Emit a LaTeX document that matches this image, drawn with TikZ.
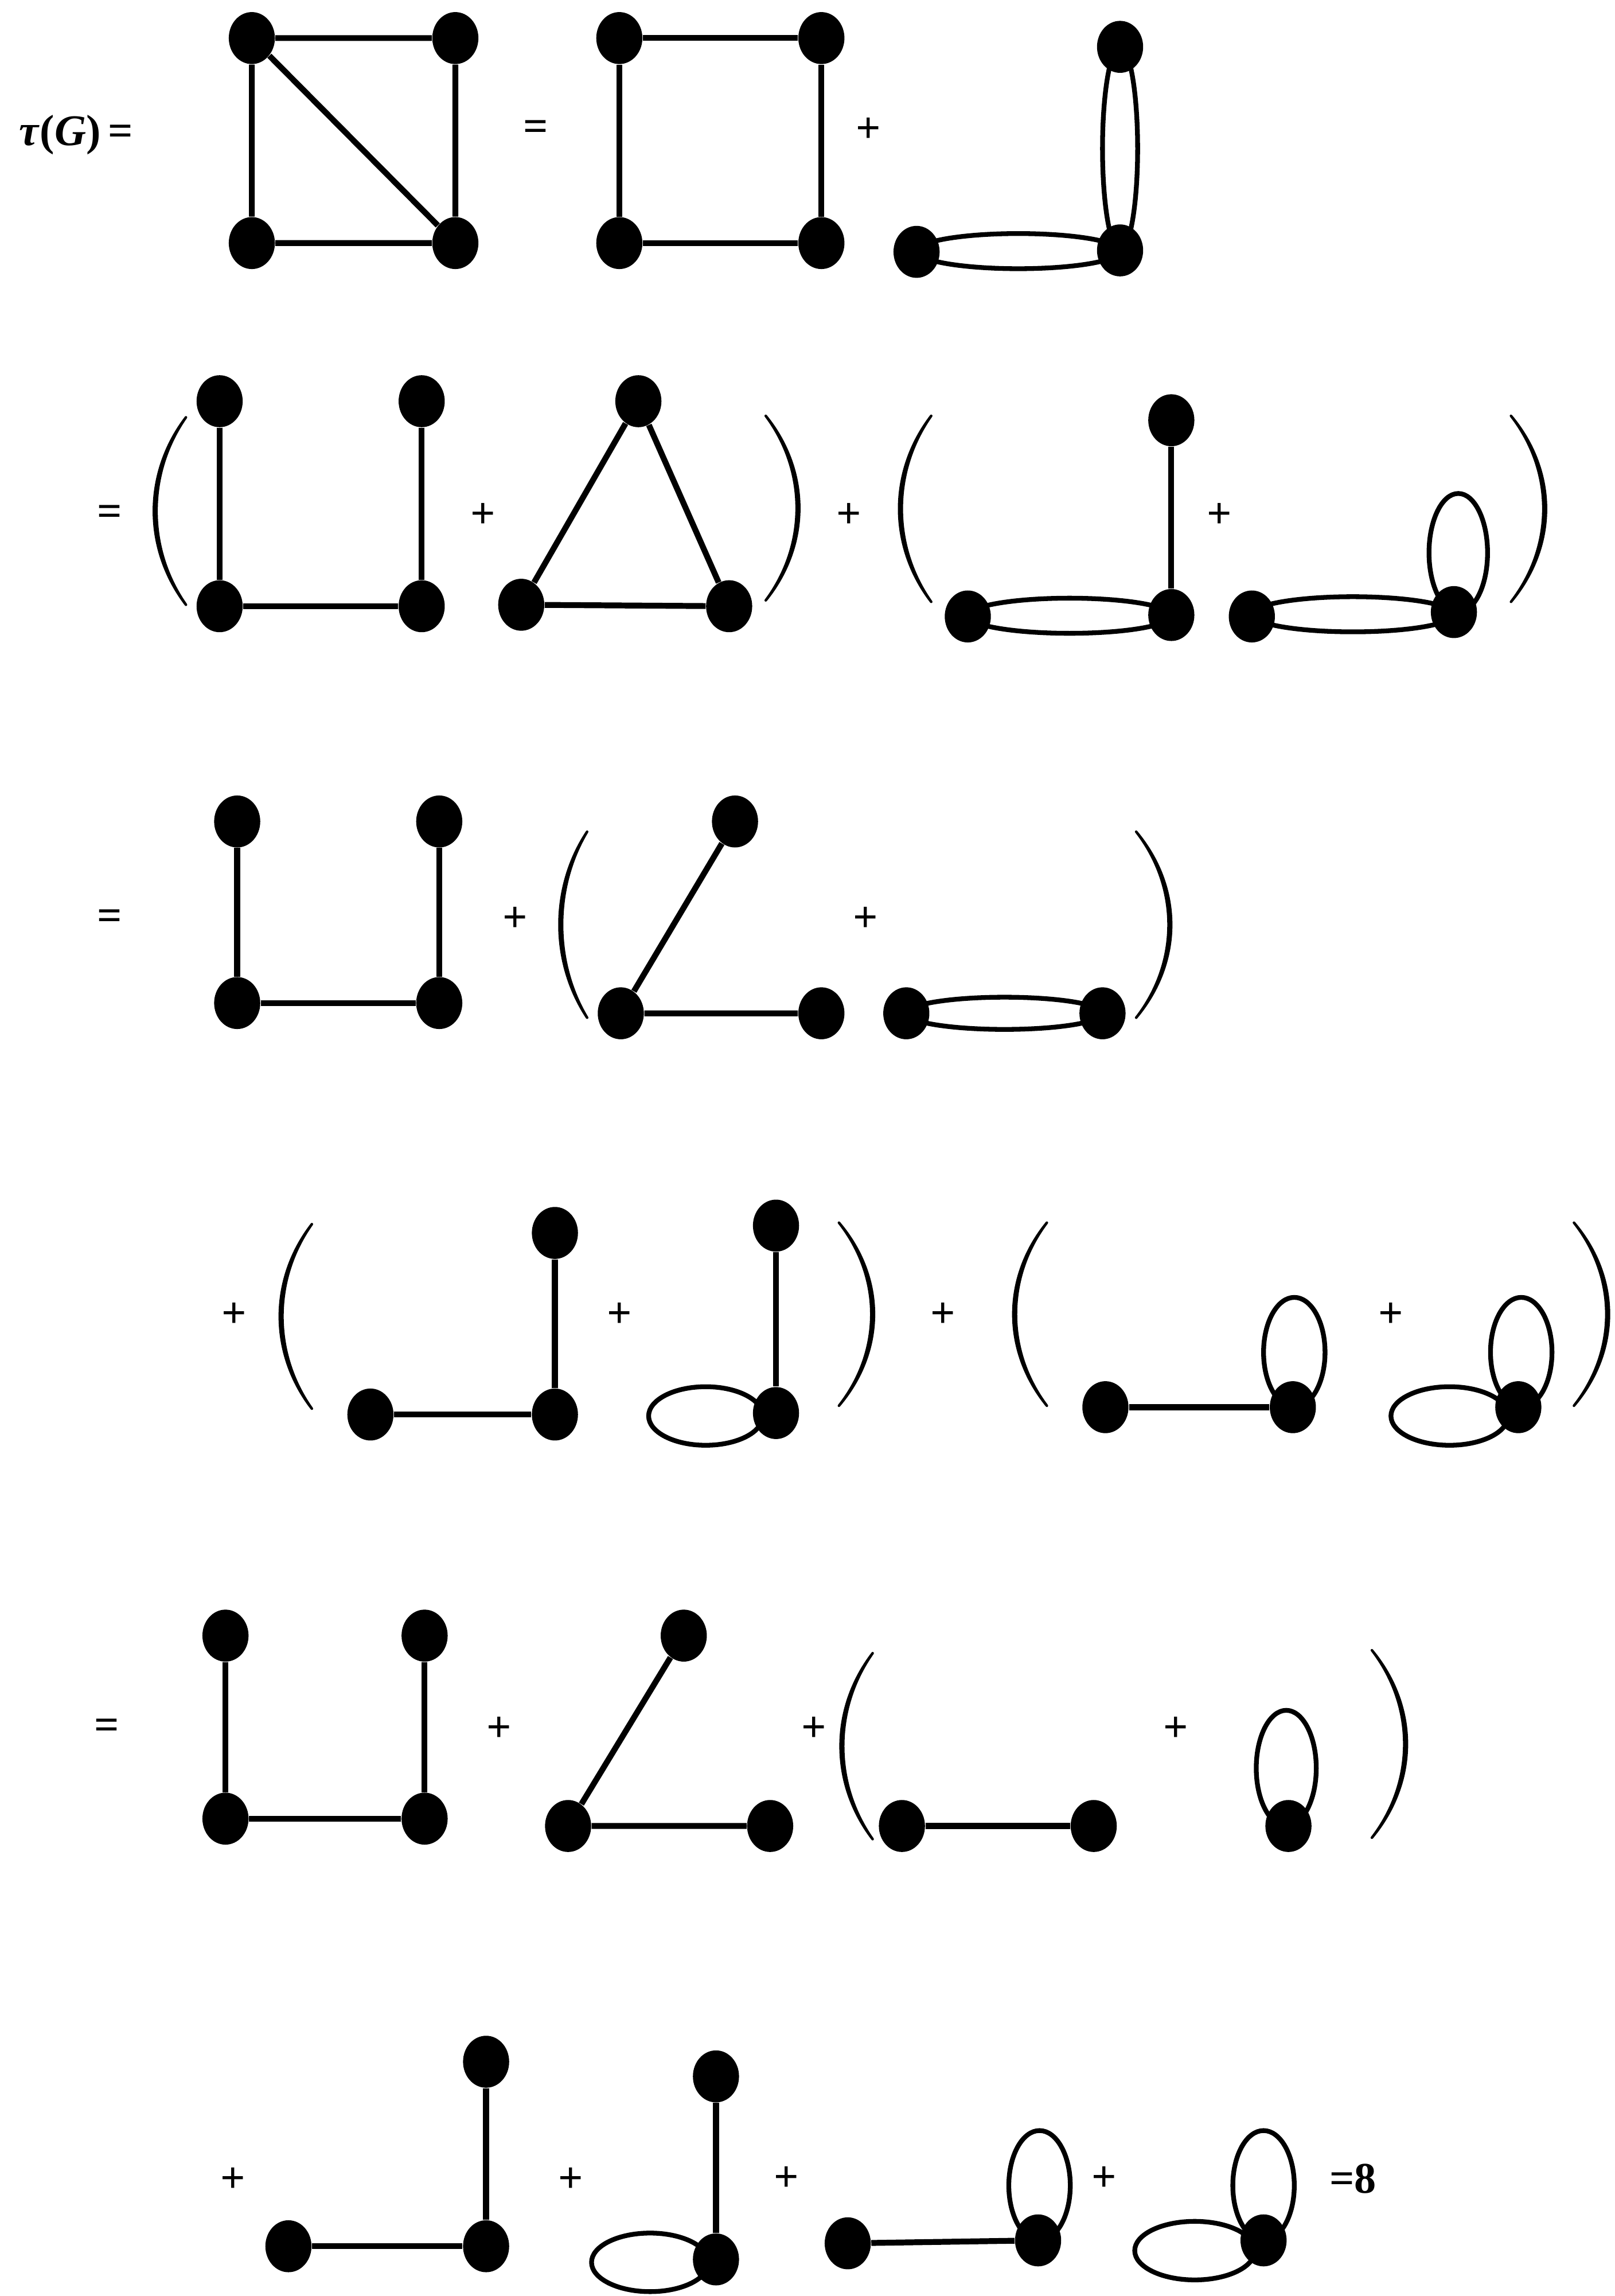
\documentclass[tikz,border=0pt]{standalone}
\usepackage{fontspec}
\setmainfont{Liberation Serif}
\usetikzlibrary{shapes.geometric,calc}
\tikzset{
  vtx/.style={ellipse, fill=black, draw=none, inner sep=0pt, minimum width=0.63cm, minimum height=0.71cm},
  edg/.style={line width=0.08cm},
  lp/.style={line width=0.065cm},
  par/.style={fill=black, draw=black, line width=0.035cm, line cap=round, line join=round},
  txt/.style={font=\fontsize{17}{20}\selectfont\bfseries, inner sep=0pt},
}
% #1 end x, #2 middle x, #3 top y, #4 bottom y
\newcommand{\parenarc}[4]{%
  \path[par] (#1,#3)
    .. controls ({(8*(#2-0.9)-2*#1)/6},{#3+0.3*(#4-#3)}) and ({(8*(#2-0.9)-2*#1)/6},{#4-0.3*(#4-#3)}) .. (#1,#4)
    .. controls ({(8*(#2+0.9)-2*#1)/6},{#4-0.3*(#4-#3)}) and ({(8*(#2+0.9)-2*#1)/6},{#3+0.3*(#4-#3)}) .. cycle;}
\begin{document}
\begin{tikzpicture}[x=0.02cm, y=-0.02cm]
\useasboundingbox (0,0) rectangle (1103,1568);
% ---------------- Row 1
\node[txt] (tg) at (52,92) {\textit{τ}(\textit{G})\,=};
\node[vtx] (a1) at (172,26) {};
\node[vtx] (b1) at (311,26) {};
\node[vtx] (c1) at (172,166) {};
\node[vtx] (d1) at (311,166) {};
\draw[edg] (a1) -- (b1) (a1) -- (c1) (b1) -- (d1) (c1) -- (d1) (a1) -- (d1);
\node[txt] (e1) at (366,89) {=};
\node[vtx] (a2) at (423,26) {};
\node[vtx] (b2) at (561,26) {};
\node[vtx] (c2) at (423,166) {};
\node[vtx] (d2) at (561,166) {};
\draw[edg] (a2) -- (b2) (a2) -- (c2) (b2) -- (d2) (c2) -- (d2);
\node[txt] (p1) at (593,89) {+};
\node[vtx] (a3) at (765,32) {};
\node[vtx] (b3) at (765,171) {};
\node[vtx] (c3) at (626,172) {};
\draw[lp] ($(a3)!0.5!(b3)$) ellipse [x radius=0.24cm, y radius=1.39cm];
\draw[lp] ($(c3)!0.5!(b3)$) ellipse [x radius=1.39cm, y radius=0.24cm];
% ---------------- Row 2
\node[txt] (e2) at (75,352) {=};
\parenarc{127}{106}{285}{413}
\node[vtx] (a4) at (150,274) {};
\node[vtx] (b4) at (288,274) {};
\node[vtx] (c4) at (150,414) {};
\node[vtx] (d4) at (288,414) {};
\draw[edg] (a4) -- (c4) (b4) -- (d4) (c4) -- (d4);
\node[txt] (p2) at (330,352) {+};
\node[vtx] (a5) at (436,274) {};
\node[vtx] (b5) at (356,413) {};
\node[vtx] (c5) at (498,414) {};
\draw[edg] (a5) -- (b5) (a5) -- (c5) (b5) -- (c5);
\parenarc{523}{545}{284}{410}
\node[txt] (p3) at (580,352) {+};
\parenarc{636}{615}{284}{411}
\node[vtx] (a6) at (800,287) {};
\node[vtx] (b6) at (800,420) {};
\node[vtx] (c6) at (661,421) {};
\draw[edg] (a6) -- (b6);
\draw[lp] ($(c6)!0.5!(b6)$) ellipse [x radius=1.39cm, y radius=0.24cm];
\node[txt] (p4) at (833,352) {+};
\node[vtx] (a7) at (855,421) {};
\node[vtx] (b7) at (993,418) {};
\draw[lp] ($(a7)!0.5!(b7)$) ellipse [x radius=1.38cm, y radius=0.24cm];
\draw[lp] ($(b7)+(3,-40.5)$) ellipse [x radius=0.4cm, y radius=0.81cm];
\parenarc{1032}{1055}{284}{411}
% ---------------- Row 3
\node[txt] (e3) at (75,628) {=};
\node[vtx] (a8) at (162,561) {};
\node[vtx] (b8) at (300,561) {};
\node[vtx] (c8) at (162,685) {};
\node[vtx] (d8) at (300,685) {};
\draw[edg] (a8) -- (c8) (b8) -- (d8) (c8) -- (d8);
\node[txt] (p5) at (352,628) {+};
\parenarc{401}{383}{568}{695}
\node[vtx] (a9) at (502,561) {};
\node[vtx] (b9) at (424,692) {};
\node[vtx] (c9) at (561,692) {};
\draw[edg] (a9) -- (b9) (b9) -- (c9);
\node[txt] (p6) at (591,628) {+};
\node[vtx] (a10) at (619,692) {};
\node[vtx] (b10) at (753,692) {};
\draw[lp] ($(a10)!0.5!(b10)$) ellipse [x radius=1.34cm, y radius=0.22cm];
\parenarc{776}{799}{568}{695}
% ---------------- Row 4
\node[txt] (p7) at (160,898) {+};
\parenarc{213}{192}{836}{962}
\node[vtx] (a11) at (379,842) {};
\node[vtx] (b11) at (379,966) {};
\node[vtx] (c11) at (253,966) {};
\draw[edg] (a11) -- (b11) (c11) -- (b11);
\node[txt] (p8) at (423,898) {+};
\node[vtx] (a12) at (530,837) {};
\node[vtx] (b12) at (530,965) {};
\draw[edg] (a12) -- (b12);
\draw[lp] ($(b12)+(-48,2)$) ellipse [x radius=0.78cm, y radius=0.4cm];
\parenarc{573}{596}{835}{960}
\node[txt] (p9) at (644,898) {+};
\parenarc{715}{693}{835}{960}
\node[vtx] (a13) at (755,961) {};
\node[vtx] (b13) at (883,961) {};
\draw[edg] (a13) -- (b13);
\draw[lp] ($(b13)+(1,-37.5)$) ellipse [x radius=0.42cm, y radius=0.75cm];
\node[txt] (p10) at (950,898) {+};
\node[vtx] (a14) at (1037,961) {};
\draw[lp] ($(a14)+(2,-37.5)$) ellipse [x radius=0.42cm, y radius=0.75cm];
\draw[lp] ($(a14)+(-47,6)$) ellipse [x radius=0.8cm, y radius=0.4cm];
\parenarc{1075}{1098}{835}{960}
% ---------------- Row 5
\node[txt] (e5) at (73,1181) {=};
\node[vtx] (a15) at (154,1117) {};
\node[vtx] (b15) at (290,1117) {};
\node[vtx] (c15) at (154,1242) {};
\node[vtx] (d15) at (290,1242) {};
\draw[edg] (a15) -- (c15) (b15) -- (d15) (c15) -- (d15);
\node[txt] (p11) at (341,1181) {+};
\node[vtx] (a16) at (467,1117) {};
\node[vtx] (b16) at (388,1247) {};
\node[vtx] (c16) at (526,1247) {};
\draw[edg] (a16) -- (b16) (b16) -- (c16);
\node[txt] (p12) at (556,1181) {+};
\parenarc{596}{575}{1129}{1256}
\node[vtx] (a17) at (616,1247) {};
\node[vtx] (b17) at (747,1247) {};
\draw[edg] (a17) -- (b17);
\node[txt] (p13) at (803,1181) {+};
\node[vtx] (a18) at (880,1247) {};
\draw[lp] ($(a18)+(-1.5,-39.5)$) ellipse [x radius=0.41cm, y radius=0.79cm];
\parenarc{937}{960}{1127}{1255}
% ---------------- Row 6
\node[txt] (p14) at (159,1489) {+};
\node[vtx] (a19) at (332,1408) {};
\node[vtx] (b19) at (332,1534) {};
\node[vtx] (c19) at (197,1534) {};
\draw[edg] (a19) -- (b19) (c19) -- (b19);
\node[txt] (p15) at (390,1489) {+};
\node[vtx] (a20) at (489,1418) {};
\node[vtx] (b20) at (489,1543) {};
\draw[edg] (a20) -- (b20);
\draw[lp] ($(b20)+(-45,2)$) ellipse [x radius=0.8cm, y radius=0.4cm];
\node[txt] (p16) at (537,1488) {+};
\node[vtx] (a21) at (579,1532) {};
\node[vtx] (b21) at (709,1530) {};
\draw[edg] (a21) -- (b21);
\draw[lp] ($(b21)+(1,-37.5)$) ellipse [x radius=0.42cm, y radius=0.75cm];
\node[txt] (p17) at (754,1488) {+};
\node[vtx] (a22) at (863,1530) {};
\draw[lp] ($(a22)+(0,-37.5)$) ellipse [x radius=0.42cm, y radius=0.75cm];
\draw[lp] ($(a22)+(-47,7)$) ellipse [x radius=0.82cm, y radius=0.4cm];
\node[txt] (res) at (924,1488) {=8};
\end{tikzpicture}
\end{document}
